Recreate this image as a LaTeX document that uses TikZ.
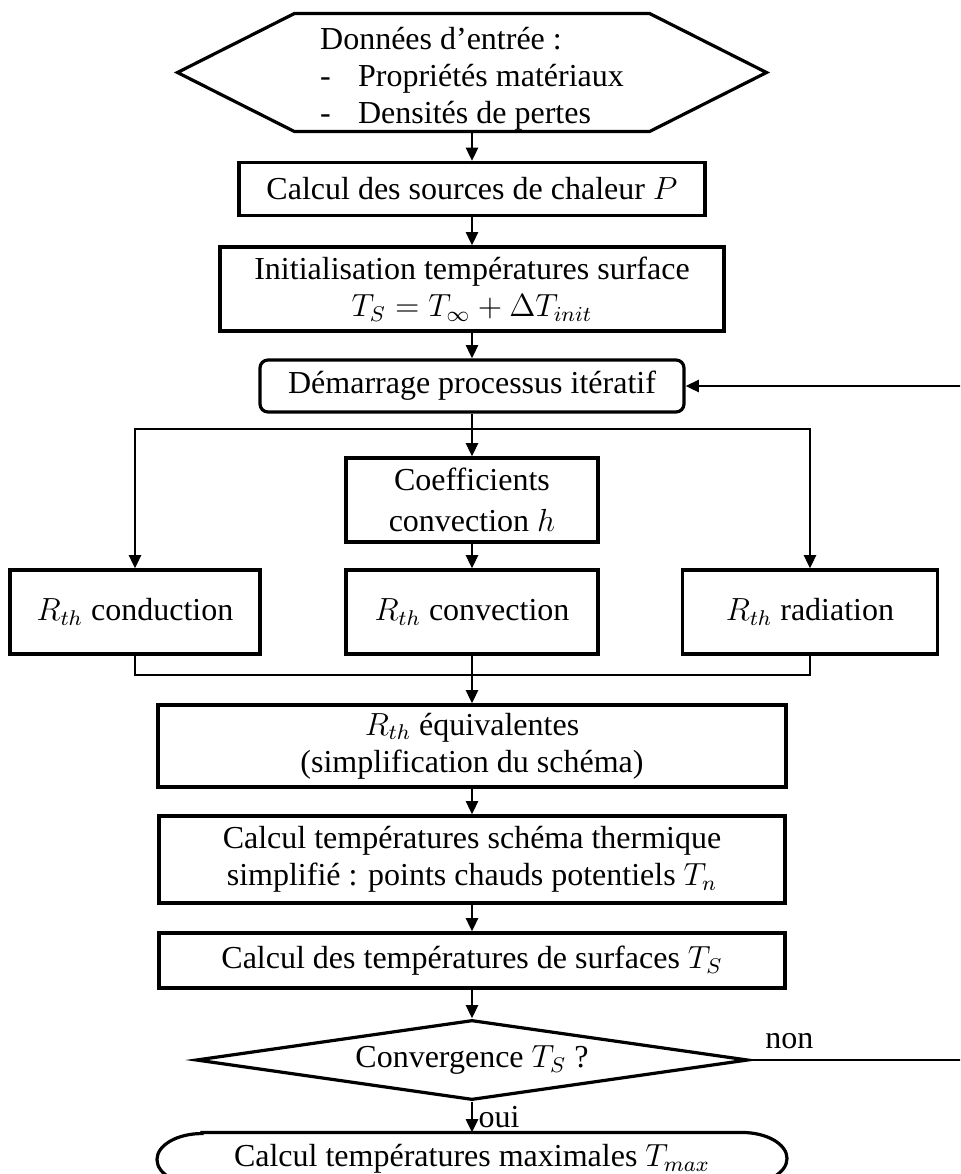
\documentclass[tikz,border=0pt]{standalone}
\usepackage{fontspec}
\setmainfont{Liberation Serif}
\usepackage{tikz}
\usetikzlibrary{arrows.meta,positioning,shapes.geometric}
\newlength{\px}
\setlength{\px}{0.375pt}

\begin{document}
\begin{tikzpicture}[
  x=0.375pt, y=-0.375pt,
  font=\fontsize{12}{13.9}\selectfont,
  arrow/.style={-{Triangle[length=5pt,width=4.5pt]}, line width=1pt},
  link/.style={line width=1pt},
  block/.style={rectangle, draw, line width=1.2pt, align=center, inner sep=2pt},
  startbox/.style={block, rounded corners=3pt},
  test/.style={diamond, draw, line width=1.2pt, aspect=7, inner sep=0pt},
  frame/.style={rectangle, inner sep=0pt},
  outline/.style={line width=1.2pt},
  lbl/.style={inner sep=2pt}
]
\useasboundingbox (0,0) rectangle (960,1174);
\clip (0,0) rectangle (960,1174);

% Main column
\node[frame, align=left, minimum width=354\px, minimum height=117\px] (input) at (472,72.5)
  {\rule{0pt}{13pt}Données d’entrée :\\
   \makebox[38\px][l]{-}Propriétés matériaux\\
   \makebox[38\px][l]{-}Densités de pertes};

\node[block, minimum width=466\px, minimum height=53\px] (heat) at (472,189)
  {Calcul des sources de chaleur $P$};

\node[block, minimum width=504\px, minimum height=84\px] (init) at (472,289)
  {Initialisation températures surface\\ $T_S = T_\infty + \Delta T_{init}$};

\node[startbox, minimum width=424\px, minimum height=52\px] (start) at (472,386)
  {Démarrage processus itératif};

\node[block, minimum width=252\px, minimum height=84\px] (coef) at (472,500)
  {Coefficients\\[1.5pt] convection $h$};

% Branches
\node[block, minimum width=250\px, minimum height=84\px] (cond) at (135,612)
  {$R_{th}$ conduction};
\node[block, minimum width=252\px, minimum height=84\px] (conv) at (472,612)
  {$R_{th}$ convection};
\node[block, minimum width=255\px, minimum height=84\px] (rad) at (810,612)
  {$R_{th}$ radiation};

% Lower column
\node[block, minimum width=628\px, minimum height=82\px] (equiv) at (472,746)
  {$R_{th}$ équivalentes\\ (simplification du schéma)};

\node[block, minimum width=626\px, minimum height=87\px] (hot) at (472,859.5)
  {Calcul températures schéma thermique\\ simplifié : points chauds potentiels $T_n$};

\node[block, minimum width=626\px, minimum height=55\px] (surf) at (472,960.5)
  {Calcul des températures de surfaces $T_S$};

\node[test, minimum width=552\px, minimum height=80\px] (check) at (472,1060)
  {Convergence $T_S$ ?};

\node[frame, minimum width=629\px, minimum height=52\px] (tmax) at (472,1159)
  {Calcul températures maximales $T_{max}$};

% Outlines
\draw[outline] (input.north west) -- (input.north east) -- ([xshift=117\px]input.east)
  -- (input.south east) -- (input.south west) -- ([xshift=-117\px]input.west) -- cycle;
\draw[outline] ([xshift=45\px]tmax.north west) -- ([xshift=-45\px]tmax.north east)
  arc[start angle=90, end angle=-90, x radius=45\px, y radius=26\px]
  -- ([xshift=45\px]tmax.south west)
  arc[start angle=270, end angle=90, x radius=45\px, y radius=26\px] -- cycle;

% Coordinates
\coordinate (split) at (472,429);
\coordinate (merge) at (472,675);
\coordinate (loop) at (990,0);

% Arrows
\draw[arrow] (input) -- (heat);
\draw[arrow] (heat) -- (init);
\draw[arrow] (init) -- (start);
\draw[arrow] (start) -- (coef);
\draw[arrow] (split) -| (cond);
\draw[arrow] (split) -| (rad);
\draw[arrow] (coef) -- (conv);

\draw[link] (cond) |- (merge);
\draw[link] (rad) |- (merge);
\draw[arrow] (conv) -- (equiv);
\draw[arrow] (equiv) -- (hot);
\draw[arrow] (hot) -- (surf);
\draw[arrow] (surf) -- (check);
\draw[arrow] (check) -- node[lbl, right] (yes) {oui} (tmax);

\draw[arrow] (check.east) -- (check.east -| loop) |- (start.east);
\node[lbl, above right=2pt and 10\px of check.east] (no) {non};

\end{tikzpicture}
\end{document}
